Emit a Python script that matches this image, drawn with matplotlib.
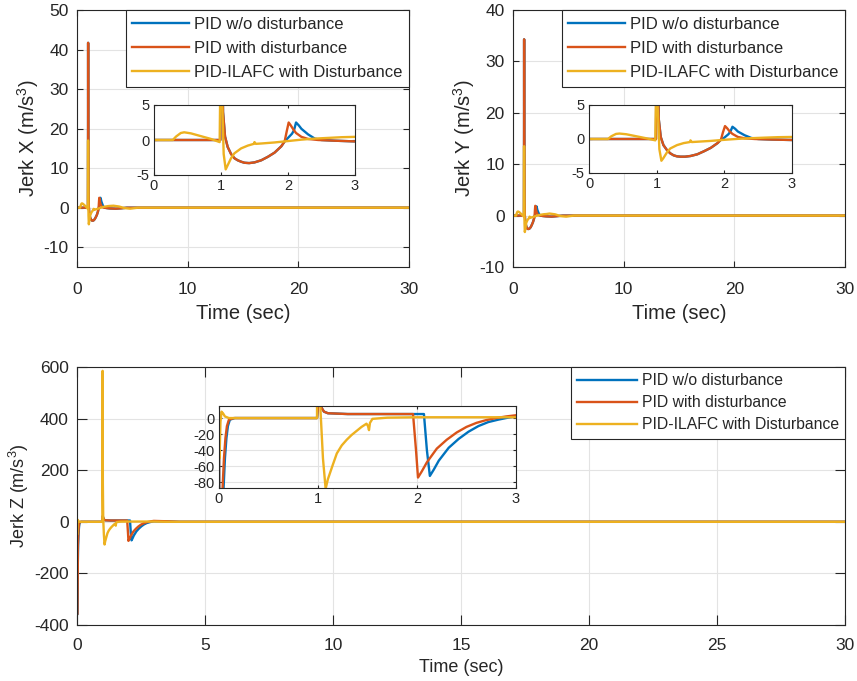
import matplotlib
matplotlib.use("Agg")
import matplotlib.pyplot as plt

plt.rcParams['font.family'] = ['Liberation Sans', 'DejaVu Sans']
plt.rcParams['axes.edgecolor'] = '#262626'
plt.rcParams['xtick.color'] = '#262626'
plt.rcParams['ytick.color'] = '#262626'
plt.rcParams['text.color'] = '#262626'
plt.rcParams['axes.labelcolor'] = '#262626'
plt.rcParams['axes.unicode_minus'] = False
plt.rcParams['mathtext.fontset'] = 'custom'
plt.rcParams['mathtext.rm'] = 'Liberation Sans'

labels = ['PID w/o disturbance', 'PID with disturbance', 'PID-ILAFC with Disturbance']
colors = ['#0072BD', '#D95319', '#EDB120']

# ---------------- Jerk X ----------------
x_t_pid = [0, 0.99, 1.0, 1.005, 1.012, 1.03, 1.06, 1.1, 1.15, 1.2, 1.25, 1.3, 1.35, 1.42, 1.5, 1.6, 1.7,
           1.8, 1.9, 1.95, 2.0, 2.03, 2.06, 2.09, 2.12, 2.16, 2.2, 2.3, 2.4, 2.5, 2.7, 3.0, 3.5, 4.0, 4.5, 5.5, 30]
x_pid = [0, 0, 20, 41.7, 20, 4, 0.5, -1, -2, -2.6, -2.9, -3.1, -3.25, -3.3, -3.2, -2.9, -2.4,
         -1.8, -0.9, -0.2, 0.3, 0.6, 0.9, 1.4, 2.5, 2.1, 1.6, 0.8, 0.2, 0, -0.1, -0.2, -0.25, -0.15, 0, 0, 0]
x_t_dist = [0, 0.99, 1.0, 1.005, 1.012, 1.03, 1.06, 1.1, 1.15, 1.2, 1.25, 1.3, 1.35, 1.42, 1.5, 1.6, 1.7,
            1.8, 1.9, 1.95, 1.98, 2.01, 2.04, 2.08, 2.12, 2.2, 2.3, 2.45, 2.7, 3.0, 3.5, 4.0, 4.5, 5.5, 30]
x_dist = [0, 0, 20, 41.7, 20, 4, 0.5, -1, -2, -2.6, -2.9, -3.1, -3.25, -3.3, -3.2, -2.9, -2.4,
          -1.8, -0.9, -0.2, 1.2, 2.5, 2.1, 1.5, 1.0, 0.45, 0.15, 0, -0.1, -0.2, -0.25, -0.15, 0, 0, 0]
x_t_ilafc = [0, 0.28, 0.33, 0.4, 0.45, 0.55, 0.7, 0.85, 0.98, 1.0, 1.01, 1.04, 1.07, 1.1, 1.15, 1.2, 1.3, 1.4,
             1.49, 1.5, 1.52, 1.6, 1.8, 2.0, 2.2, 2.4, 2.6, 2.8, 3.0, 3.3, 3.8, 4.3, 4.8, 5.5, 30]
x_ilafc = [0, 0, 0.5, 1.0, 1.1, 0.95, 0.55, 0.15, -0.3, 17, 8, -2, -4.2, -3.6, -2.6, -1.9, -1.2, -0.8,
           -0.55, -0.3, -0.55, -0.5, -0.35, -0.15, 0.05, 0.2, 0.3, 0.4, 0.45, 0.5, 0.3, -0.1, -0.25, 0, 0]

# ---------------- Jerk Y ----------------
y_t_pid = x_t_pid
y_pid = [0, 0, 17, 34.3, 16, 3, 0.3, -0.9, -1.6, -2.1, -2.4, -2.55, -2.6, -2.6, -2.5, -2.25, -1.8,
         -1.3, -0.6, -0.1, 0.2, 0.45, 0.7, 1.1, 1.8, 1.5, 1.1, 0.55, 0.15, 0, -0.08, -0.15, -0.2, -0.1, 0, 0, 0]
y_t_dist = x_t_dist
y_dist = [0, 0, 17, 34.3, 16, 3, 0.3, -0.9, -1.6, -2.1, -2.4, -2.55, -2.6, -2.6, -2.5, -2.25, -1.8,
          -1.3, -0.6, -0.1, 1.0, 1.9, 1.6, 1.1, 0.75, 0.3, 0.1, 0, -0.08, -0.15, -0.2, -0.1, 0, 0, 0]
y_t_ilafc = x_t_ilafc
y_ilafc = [0, 0, 0.4, 0.75, 0.8, 0.7, 0.4, 0.1, -0.2, 13.5, 6, -1.5, -3.2, -2.8, -2.0, -1.4, -0.9, -0.6,
           -0.45, -0.2, -0.45, -0.4, -0.28, -0.12, 0.02, 0.12, 0.2, 0.27, 0.3, 0.4, 0.25, -0.1, -0.2, 0, 0]

# ---------------- Jerk Z ----------------
z_t_pid = [0, 0.008, 0.025, 0.045, 0.06, 0.075, 0.09, 0.11, 0.16, 0.99, 1.005, 1.03, 1.06, 1.1, 1.3,
           2.07, 2.1, 2.13, 2.17, 2.22, 2.32, 2.42, 2.52, 2.62, 2.72, 2.82, 2.92, 3.0, 3.5, 4.0, 30]
z_pid = [0, -360, -200, -90, -50, -25, -10, -2, 0, 0, 22, 14, 8, 6, 5,
         5, -40, -72, -64, -53, -37, -26, -17, -10, -5, -2, 0.5, 2, 1.5, 0, 0]
z_t_dist = [0, 0.005, 0.02, 0.035, 0.05, 0.065, 0.08, 0.1, 0.15, 0.99, 1.005, 1.03, 1.06, 1.1, 1.3,
            1.96, 1.99, 2.01, 2.05, 2.1, 2.2, 2.3, 2.4, 2.5, 2.6, 2.7, 2.8, 2.9, 3.0, 3.5, 4.0, 30]
z_dist = [0, -360, -200, -90, -50, -25, -10, -2, 0, 0, 22, 14, 8, 6, 5,
          5, -40, -74, -66, -55, -38, -27, -18, -11, -6, -2.5, 0, 2, 3.5, 2, 0, 0]
z_t_ilafc = [0, 0.005, 0.015, 0.025, 0.04, 0.06, 0.1, 0.99, 1.0, 1.01, 1.025, 1.05, 1.077, 1.1, 1.15, 1.19,
             1.24, 1.29, 1.34, 1.39, 1.44, 1.49, 1.505, 1.515, 1.525, 1.55, 1.7, 2.0, 3.0, 3.5, 30]
z_ilafc = [0, -50, -5, 8, 6, 2, 0, 0, 585, 150, 10, -50, -88, -76, -58, -44,
           -34, -27, -21, -16, -11, -7, -10, -15, -6, -1, 0.5, 1, 1, 0, 0]

xticks_top = [0, 10, 20, 30]
xticks_bot = [0, 5, 10, 15, 20, 25, 30]
inset_xticks = [0, 1, 2, 3]

W, H = 857, 681
fig = plt.figure(figsize=(W / 100, H / 100), dpi=100)


def px_axes(x0, y0, x1, y1):
    return fig.add_axes([x0 / W, 1 - y1 / H, (x1 - x0) / W, (y1 - y0) / H])


def style(ax, ticklen, fs, grid=True, xpad=6, ypad=6):
    ax.tick_params(direction='in', length=ticklen, width=0.8, labelsize=fs, top=True, right=True)
    ax.tick_params(axis='x', pad=xpad)
    ax.tick_params(axis='y', pad=ypad)
    for s in ax.spines.values():
        s.set_linewidth(0.8)
    if grid:
        ax.grid(True, color='#e3e3e3', linewidth=0.8)
        ax.set_axisbelow(True)


def draw(ax, series, lw=1.7):
    lines = []
    for (t, v), c, lab in zip(series, colors, labels):
        ln, = ax.plot(t, v, color=c, lw=lw, label=lab, solid_joinstyle='round')
        lines.append(ln)
    return lines


sx = [(x_t_pid, x_pid), (x_t_dist, x_dist), (x_t_ilafc, x_ilafc)]
sy = [(y_t_pid, y_pid), (y_t_dist, y_dist), (y_t_ilafc, y_ilafc)]
sz = [(z_t_pid, z_pid), (z_t_dist, z_dist), (z_t_ilafc, z_ilafc)]

leg_top = dict(loc='upper right', fontsize=12, frameon=True, fancybox=False, framealpha=1,
               edgecolor='#262626', borderaxespad=0, handlelength=3.4, labelspacing=0.55,
               handletextpad=0.3, borderpad=0.4)

# Top left
ax1 = px_axes(77, 10, 409, 267)
style(ax1, 4, 12.5, xpad=11)
draw(ax1, sx)
ax1.set_xlim(0, 30)
ax1.set_ylim(-15, 50)
ax1.set_xticks(xticks_top)
ax1.set_yticks([-10, 0, 10, 20, 30, 40, 50])
ax1.set_xlabel('Time (sec)', fontsize=14.5, labelpad=5)
ax1.set_ylabel('Jerk X (m/s$^3$)', fontsize=14.5, labelpad=2)
lg = ax1.legend(**leg_top)
lg.get_frame().set_linewidth(0.8)

# Top right
ax2 = px_axes(513, 10, 845, 267)
style(ax2, 4, 12.5, xpad=11)
draw(ax2, sy)
ax2.set_xlim(0, 30)
ax2.set_ylim(-10, 40)
ax2.set_xticks(xticks_top)
ax2.set_yticks([-10, 0, 10, 20, 30, 40])
ax2.set_xlabel('Time (sec)', fontsize=14.5, labelpad=5)
ax2.set_ylabel('Jerk Y (m/s$^3$)', fontsize=14.5, labelpad=2)
lg = ax2.legend(**leg_top)
lg.get_frame().set_linewidth(0.8)

# Bottom
ax3 = px_axes(77, 367, 845, 625)
style(ax3, 7, 12.5, xpad=9)
draw(ax3, sz)
ax3.set_xlim(0, 30)
ax3.set_ylim(-400, 600)
ax3.set_xticks(xticks_bot)
ax3.set_yticks([-400, -200, 0, 200, 400, 600])
ax3.set_xlabel('Time (sec)', fontsize=13, labelpad=5)
ax3.set_ylabel('Jerk Z (m/s$^3$)', fontsize=13, labelpad=2)
lg = ax3.legend(loc='upper right', fontsize=11.3, frameon=True, fancybox=False, framealpha=1,
                edgecolor='#262626', borderaxespad=0, handlelength=3.8, labelspacing=0.45,
                handletextpad=0.3, borderpad=0.4)
lg.get_frame().set_linewidth(0.8)

# Insets
in1 = px_axes(154, 105, 355, 175)
style(in1, 2, 10.5, grid=False, xpad=3, ypad=3)
draw(in1, sx)
in1.set_xlim(0, 3)
in1.set_ylim(-5, 5)
in1.set_xticks(inset_xticks)
in1.set_yticks([-5, 0, 5])

in2 = px_axes(589, 105, 792, 173)
style(in2, 2, 10.5, grid=False, xpad=3, ypad=3)
draw(in2, sy)
in2.set_xlim(0, 3)
in2.set_ylim(-5, 5)
in2.set_xticks(inset_xticks)
in2.set_yticks([-5, 0, 5])

in3 = px_axes(219, 406, 516, 488)
style(in3, 2, 10.5, grid=True, xpad=3, ypad=3)
draw(in3, sz)
in3.set_xlim(0, 3)
in3.set_ylim(-87, 15)
in3.set_xticks(inset_xticks)
in3.set_yticks([-80, -60, -40, -20, 0])

fig.savefig('out.png', dpi=100)
